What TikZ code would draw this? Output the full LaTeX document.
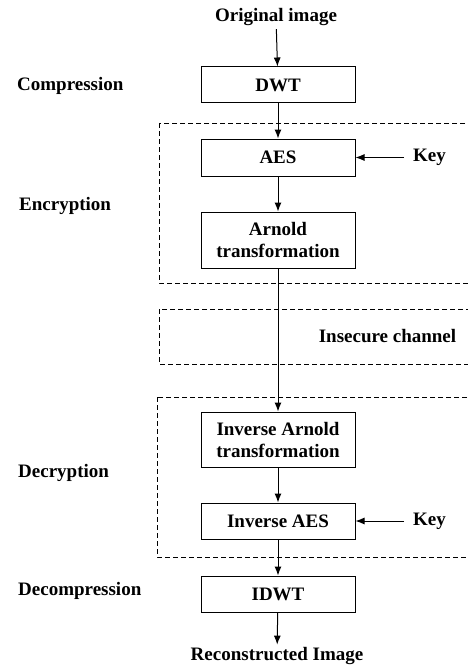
\documentclass[tikz,border=0pt]{standalone}
\usepackage{fontspec}
\setmainfont{Liberation Serif}
\usetikzlibrary{arrows.meta}
\begin{document}
\begin{tikzpicture}[x=1pt,y=-1pt,
  every node/.style={font=\fontsize{19}{22}\selectfont\bfseries},
  blockbox/.style={draw, line width=1pt, minimum width=154pt, inner sep=0pt, align=center},
  arr/.style={line width=1pt, -{Latex[length=9pt,width=7pt]}},
  region/.style={draw, line width=0.8pt, dash pattern=on 5pt off 3pt},
  lbl/.style={anchor=west, inner sep=0pt}]
\useasboundingbox (0,0) rectangle (468,666);
% dashed regions
\draw[region] (159,123) rectangle (472,283);
\draw[region] (159,309) rectangle (472,364);
\draw[region] (157,397) rectangle (472,557);
% nodes
\node (orig) at (276,17) {Original image};
\node[blockbox, minimum height=36pt] (dwt) at (278,85) {DWT};
\node[blockbox, minimum height=37pt] (aes) at (278,157.5) {AES};
\node[blockbox, minimum height=56pt] (arnold) at (278,240) {Arnold\\transformation};
\node[blockbox, minimum height=55pt] (iarnold) at (278,439.5) {Inverse Arnold\\transformation};
\node[blockbox, minimum height=36pt] (iaes) at (278,521) {Inverse AES};
\node[blockbox, minimum height=36pt] (idwt) at (278,594) {IDWT};
\node[inner sep=2pt] (recon) at (277,655.5) {Reconstructed Image};
\node[lbl] (comp) at (17,86) {Compression};
\node[lbl] (enc) at (19,206) {Encryption};
\node[lbl] (dec) at (18,473) {Decryption};
\node[lbl] (decomp) at (18,591) {Decompression};
\node[lbl] (key1) at (413,157.5) {Key};
\node[lbl] (key2) at (413,521) {Key};
\node (chan) at (387.5,336) {Insecure channel};
% connectors
\draw[arr] (orig) -- (dwt);
\draw[arr] (dwt) -- (aes);
\draw[arr] (aes) -- (arnold);
\draw[arr] (arnold) -- (iarnold);
\draw[arr] (iarnold) -- (iaes);
\draw[arr] (iaes) -- (idwt);
\draw[arr] (idwt) -- (recon);
\draw[arr, shorten <=9pt] (key1.west) -- (aes.east);
\draw[arr, shorten <=9pt] (key2.west) -- (iaes.east);
\end{tikzpicture}
\end{document}
